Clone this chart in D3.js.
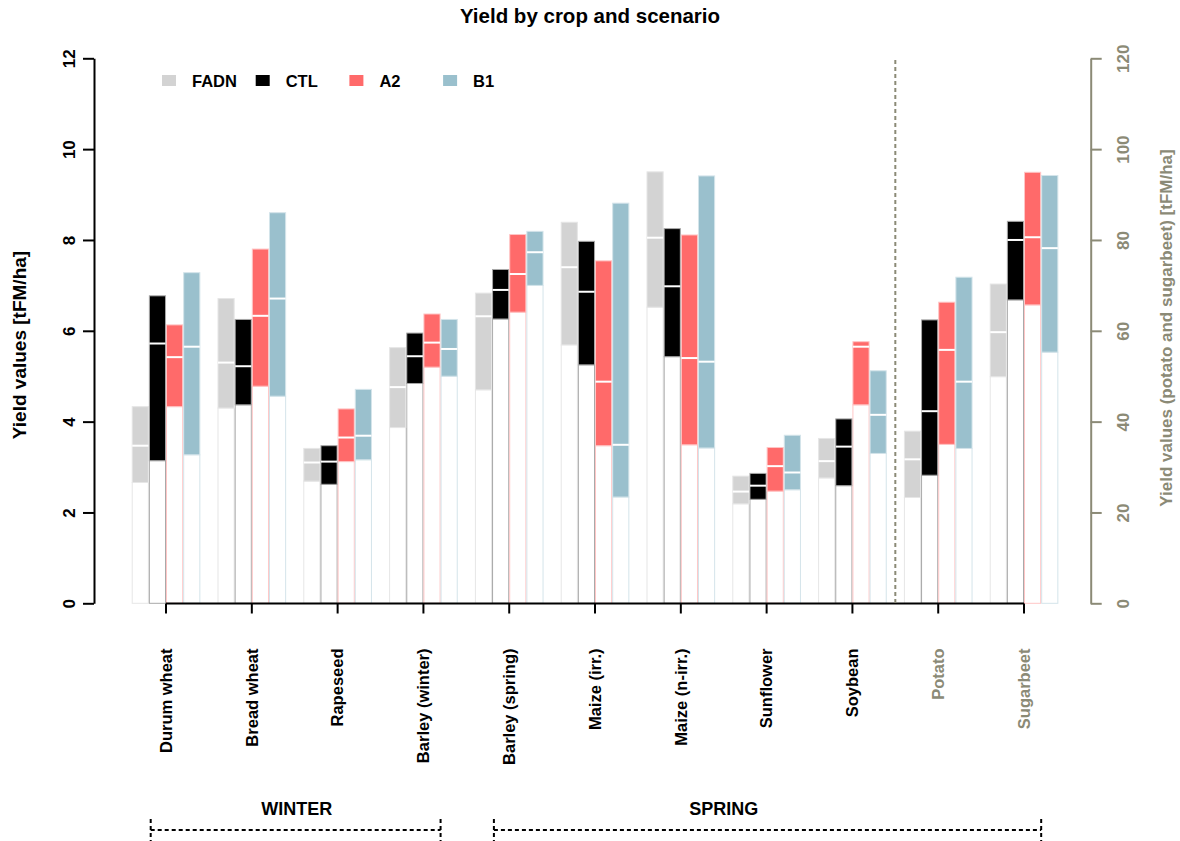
<!DOCTYPE html>
<head>
<meta charset="utf-8">
<script src="https://d3js.org/d3.v7.min.js"></script>
<style>
body {
	margin: 0;
	background: #fff;
}
svg text {
	font-family: "Liberation Sans", Arial, sans-serif;
	font-weight: bold;
}
.axis path, .axis line {
	stroke-width: 2px;
}
</style>
</head>
<body>
<svg id="chart" width="1180" height="841"></svg>
<script>

// crops in plotting order; the last two are read on the right axis (x10)
var crops = ["Durum wheat", "Bread wheat", "Rapeseed", "Barley (winter)", "Barley (spring)",
	"Maize (irr.)", "Maize (n-irr.)", "Sunflower", "Soybean", "Potato", "Sugarbeet"];
var rightCrops = ["Potato", "Sugarbeet"];
var scenarios = ["FADN", "CTL", "A2", "B1"];
var winterCrops = ["Durum wheat", "Bread wheat", "Rapeseed", "Barley (winter)"];
var springCrops = ["Barley (spring)", "Maize (irr.)", "Maize (n-irr.)", "Sunflower", "Soybean", "Potato", "Sugarbeet"];

var leftTicks = [0, 2, 4, 6, 8, 10, 12];
var rightTicks = [0, 20, 40, 60, 80, 100, 120];

// yields: min / median / max per crop
var fadnMin = [2.66, 4.30, 2.69, 3.87, 4.70, 5.69, 6.52, 2.19, 2.76, 23.3, 49.9];
var fadnMed = [3.47, 5.30, 3.10, 4.76, 6.32, 7.40, 8.05, 2.46, 3.13, 31.7, 59.7];
var fadnMax = [4.33, 6.71, 3.41, 5.63, 6.83, 8.39, 9.50, 2.80, 3.63, 37.9, 70.3];

var ctlMin = [3.14, 4.37, 2.62, 4.84, 6.26, 5.25, 5.43, 2.29, 2.59, 28.2, 66.8];
var ctlMed = [5.72, 5.22, 3.12, 5.44, 6.90, 6.86, 6.98, 2.59, 3.45, 42.3, 80.0];
var ctlMax = [6.77, 6.25, 3.47, 5.95, 7.35, 7.97, 8.25, 2.86, 4.06, 62.4, 84.1];

var a2Min = [4.33, 4.78, 3.12, 5.20, 6.41, 3.47, 3.49, 2.47, 4.37, 35.0, 65.7];
var a2Med = [5.42, 6.33, 3.65, 5.74, 7.25, 4.88, 5.40, 3.02, 5.65, 55.8, 80.6];
var a2Max = [6.13, 7.80, 4.28, 6.37, 8.12, 7.54, 8.11, 3.43, 5.76, 66.3, 94.9];

var b1Min = [3.27, 4.56, 3.16, 5.00, 7.00, 2.34, 3.42, 2.50, 3.30, 34.1, 55.3];
var b1Med = [5.65, 6.71, 3.69, 5.60, 7.73, 3.49, 5.32, 2.88, 4.15, 48.8, 78.2];
var b1Max = [7.28, 8.60, 4.71, 6.25, 8.19, 8.81, 9.41, 3.70, 5.12, 71.8, 94.2];

var colors = ["#d3d3d3", "#000000", "#ff6a6a", "#9ac0cd"];
var borders = ["#e6e6e6", "#a8a8a8", "#ffc6c6", "#d4e4ea"];
var grayAxis = "#8b8a76";

var mins = [fadnMin, ctlMin, a2Min, b1Min],
	meds = [fadnMed, ctlMed, a2Med, b1Med],
	maxs = [fadnMax, ctlMax, a2Max, b1Max];

var svg = d3.select("#chart");

var yL = d3.scaleLinear().domain([0, 12]).range([603.3, 58.3]);
var yR = d3.scaleLinear().domain([0, 120]).range([603.3, 58.3]);

var xCrop = d3.scaleBand().domain(crops).range([131.7, 131.7 + 11 * 85.8]);
var xScen = d3.scaleBand().domain(scenarios.concat(["gap"])).range([0, xCrop.bandwidth()]);
var bw = xScen.bandwidth();
var tickX = c => xCrop(c) + xScen("A2");

var bars = [];
crops.forEach(function(c, ci) {
	var y = rightCrops.includes(c) ? yR : yL;
	scenarios.forEach(function(s, si) {
		bars.push({crop: c, si: si, x: xCrop(c) + xScen(s), y: y,
			min: mins[si][ci], med: meds[si][ci], max: maxs[si][ci]});
	});
});

var g = svg.append("g");

// white lower part
g.selectAll(".base").data(bars).enter().append("rect")
	.attr("class", "base")
	.attr("x", d => d.x + 0.5)
	.attr("width", bw - 1)
	.attr("y", d => d.y(d.min))
	.attr("height", d => d.y(0) - d.y(d.min))
	.attr("fill", "#fff")
	.attr("stroke", d => borders[d.si])
	.attr("stroke-width", 1);

// coloured range
g.selectAll(".range").data(bars).enter().append("rect")
	.attr("class", "range")
	.attr("x", d => d.x + 0.5)
	.attr("width", bw - 1)
	.attr("y", d => d.y(d.max))
	.attr("height", d => d.y(d.min) - d.y(d.max))
	.attr("fill", d => colors[d.si])
	.attr("stroke", d => borders[d.si])
	.attr("stroke-width", 1);

// median
g.selectAll(".med").data(bars).enter().append("line")
	.attr("x1", d => d.x + 0.5)
	.attr("x2", d => d.x + bw - 0.5)
	.attr("y1", d => d.y(d.med))
	.attr("y2", d => d.y(d.med))
	.attr("stroke", "#fff")
	.attr("stroke-width", 2);

// left axis
var axL = svg.append("g").attr("class", "axis")
	.attr("transform", "translate(94,0)")
	.call(d3.axisLeft(yL).tickValues(leftTicks).tickSize(11).tickSizeOuter(0).tickFormat(d3.format("d")));
axL.selectAll("path, line").attr("stroke", "#000");
axL.selectAll("text")
	.attr("x", 0).attr("y", 0)
	.attr("transform", "translate(-25,0) rotate(-90)")
	.attr("text-anchor", "middle")
	.attr("dy", "0.35em")
	.attr("fill", "#000")
	.style("font-size", "17px");

// right axis
var axR = svg.append("g").attr("class", "axis")
	.attr("transform", "translate(1090.7,0)")
	.call(d3.axisRight(yR).tickValues(rightTicks).tickSize(11).tickSizeOuter(0).tickFormat(d3.format("d")));
axR.selectAll("path, line").attr("stroke", grayAxis);
axR.selectAll("text")
	.attr("x", 0).attr("y", 0)
	.attr("transform", "translate(32,0) rotate(-90)")
	.attr("text-anchor", "middle")
	.attr("dy", "0.35em")
	.attr("fill", grayAxis)
	.style("font-size", "17px");

// x axis: ticks at group centres
var axX = svg.append("g").attr("class", "axis")
	.attr("transform", "translate(" + (xScen("A2") - xCrop.bandwidth() / 2) + ",603.5)")
	.call(d3.axisBottom(xCrop).tickSize(10).tickSizeOuter(0));
axX.select(".domain").remove();
axX.selectAll("line").attr("stroke", "#000");
axX.selectAll("text")
	.attr("x", 0).attr("y", 0)
	.attr("transform", "translate(0,45) rotate(-90)")
	.attr("text-anchor", "end")
	.attr("dy", "0.35em")
	.attr("fill", d => rightCrops.includes(d) ? grayAxis : "#000")
	.style("font-size", "16.5px");
svg.append("line")
	.attr("x1", tickX(crops[0])).attr("x2", tickX(crops[crops.length - 1]))
	.attr("y1", 603.5).attr("y2", 603.5)
	.attr("stroke", "#000").attr("stroke-width", 2);

// separator between left-axis and right-axis crops
var sepX = xCrop(rightCrops[0]) - bw / 2;
svg.append("line")
	.attr("x1", sepX).attr("x2", sepX)
	.attr("y1", 60).attr("y2", 603)
	.attr("stroke", grayAxis).attr("stroke-width", 2)
	.attr("stroke-dasharray", "4,3");

// titles
svg.append("text")
	.attr("x", 590).attr("y", 23)
	.attr("text-anchor", "middle")
	.style("font-size", "20.5px")
	.text("Yield by crop and scenario");

svg.append("text")
	.attr("transform", "translate(26,345) rotate(-90)")
	.attr("text-anchor", "middle")
	.style("font-size", "19px")
	.text("Yield values [tFM/ha]");

svg.append("text")
	.attr("transform", "translate(1172,328) rotate(-90)")
	.attr("text-anchor", "middle")
	.attr("fill", grayAxis)
	.style("font-size", "17px")
	.text("Yield values (potato and sugarbeet) [tFM/ha]");

// legend
var leg = svg.append("g").selectAll("g").data(scenarios).enter().append("g")
	.attr("transform", (d, i) => "translate(" + (162 + i * 93.7) + ",75)");
leg.append("rect")
	.attr("width", 14).attr("height", 11)
	.attr("fill", (d, i) => colors[i]);
leg.append("text")
	.attr("x", 30).attr("y", 12)
	.style("font-size", "16.5px")
	.text(d => d);

// season brackets
function bracket(list, label, labelX) {
	var x0 = xCrop(list[0]) + 19,
		x1 = xCrop(list[list.length - 1]) + 3 * bw;
	var b = svg.append("g")
		.attr("stroke", "#000").attr("stroke-width", 2).attr("stroke-dasharray", "4,3");
	b.append("line").attr("x1", x0).attr("x2", x1).attr("y1", 830).attr("y2", 830);
	b.append("line").attr("x1", x0).attr("x2", x0).attr("y1", 819).attr("y2", 843);
	b.append("line").attr("x1", x1).attr("x2", x1).attr("y1", 819).attr("y2", 843);
	svg.append("text")
		.attr("x", labelX).attr("y", 815)
		.attr("text-anchor", "middle")
		.style("font-size", "18px")
		.text(label);
}
bracket(winterCrops, "WINTER", (tickX(winterCrops[0]) + tickX(winterCrops[3])) / 2 + 2);
bracket(springCrops, "SPRING", (tickX(springCrops[0]) + tickX(springCrops[5])) / 2);

</script>
</body>
